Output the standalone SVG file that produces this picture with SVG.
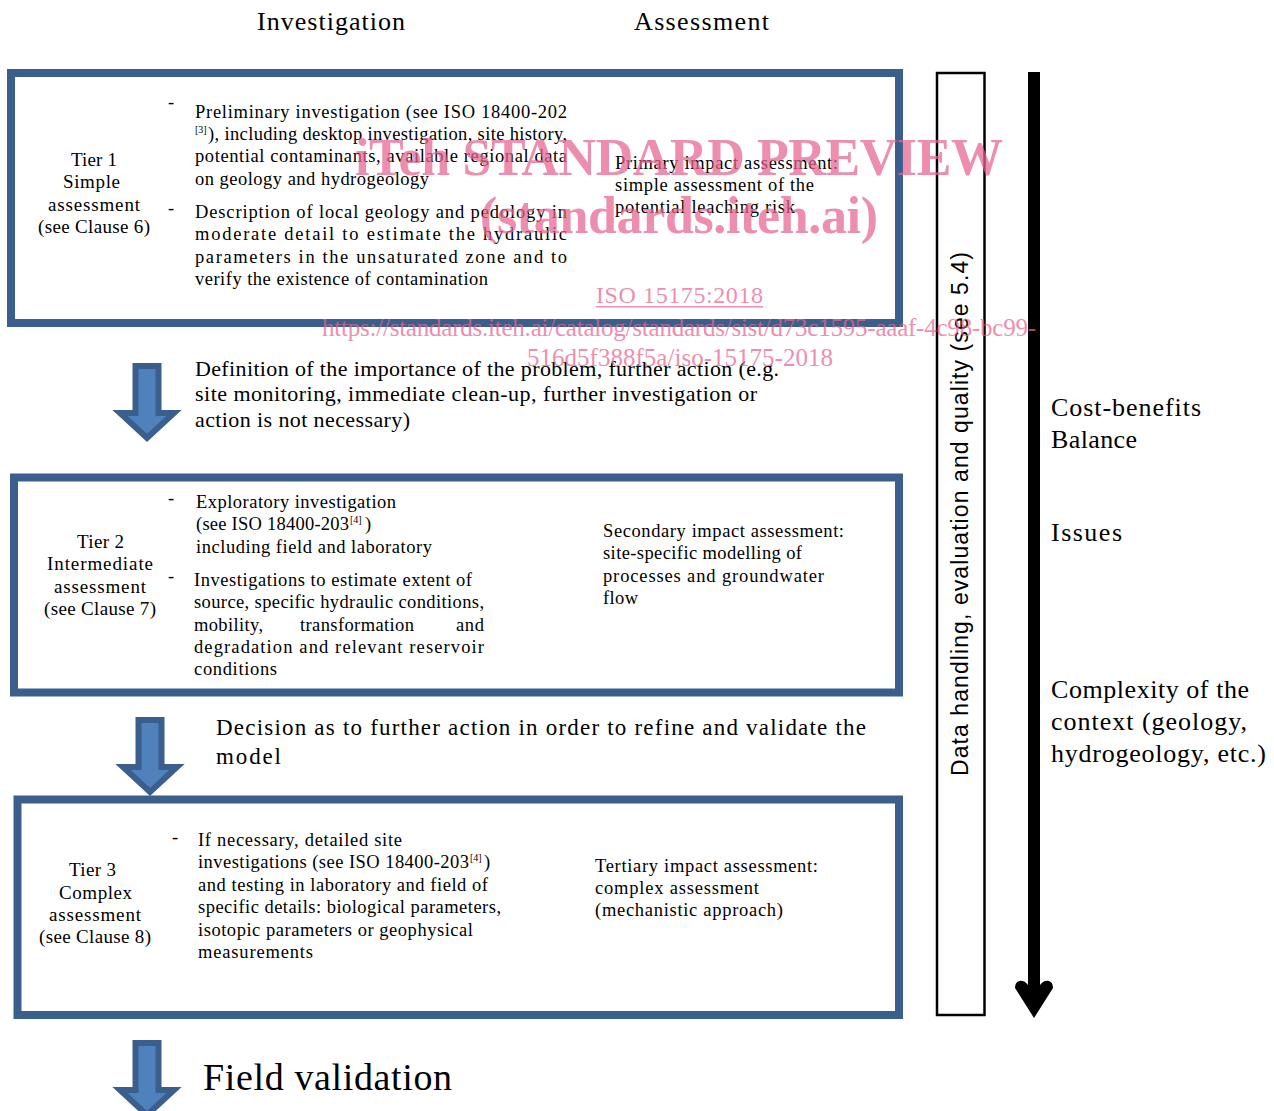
<svg xmlns="http://www.w3.org/2000/svg" width="1274" height="1111" viewBox="0 0 1274 1111">
<style>
.t{font-family:"Liberation Serif","Times New Roman",serif;font-size:18.5px;fill:#000}
.tl{font-family:"Liberation Serif","Times New Roman",serif;font-size:19px;fill:#000}
.big{font-family:"Liberation Serif","Times New Roman",serif;font-size:22px;fill:#000}
.h{font-family:"Liberation Serif","Times New Roman",serif;font-size:26px;fill:#000}
.sup{font-family:"Liberation Serif","Times New Roman",serif;font-size:10px;fill:#000}
.box{fill:#fff;stroke:#3B5F8C;stroke-width:8}
.barrow{fill:#4F81BD;stroke:#3B5F8C;stroke-width:6;stroke-linejoin:miter}
.wm{font-family:"Liberation Serif","Times New Roman",serif;fill:#E8648F;opacity:0.72}
</style>
<defs>
<path id="blueArrow" d="M-11.5,3 H11.5 V50 H27 L0,75 L-27,50 H-11.5 Z"/>
</defs>
<rect width="1274" height="1111" fill="#fff"/>

<g id="headers">
<text class="h" x="257" y="30" textLength="148">Investigation</text>
<text class="h" x="634" y="30" textLength="135">Assessment</text>
</g>

<g id="tier1">
<rect class="box" x="11" y="73" width="888" height="250"/>
<text class="tl" x="71" y="166" textLength="46">Tier 1</text>
<text class="tl" x="63" y="188" textLength="57">Simple</text>
<text class="tl" x="48" y="211" textLength="92">assessment</text>
<text class="tl" x="38" y="233" textLength="112">(see Clause 6)</text>
<text class="t" x="168" y="108">-</text>
<text class="t" x="195" y="118" textLength="372">Preliminary investigation (see ISO 18400-202</text>
<text class="sup" x="195" y="133">[3]</text>
<text class="t" x="208" y="140" textLength="359">), including desktop investigation, site history,</text>
<text class="t" x="195" y="162" textLength="372">potential contaminants, available regional data</text>
<text class="t" x="195" y="185" textLength="234">on geology and hydrogeology</text>
<text class="t" x="168" y="214">-</text>
<text class="t" x="195" y="218" textLength="372">Description of local geology and pedology in</text>
<text class="t" x="195" y="240" textLength="372">moderate detail to estimate the hydraulic</text>
<text class="t" x="195" y="263" textLength="372">parameters in the unsaturated zone and to</text>
<text class="t" x="195" y="285" textLength="293">verify the existence of contamination</text>
<text class="t" x="615" y="169" textLength="223">Primary impact assessment:</text>
<text class="t" x="615" y="191" textLength="199">simple assessment of the</text>
<text class="t" x="615" y="213" textLength="180">potential leaching risk</text>
</g>

<g id="decision1">
<text class="big" x="195" y="376" textLength="584">Definition of the importance of the problem, further action (e.g.</text>
<text class="big" x="195" y="401" textLength="562">site monitoring, immediate clean-up, further investigation or</text>
<text class="big" x="195" y="427" textLength="215">action is not necessary)</text>
</g>

<g id="tier2">
<rect class="box" x="14" y="477.5" width="885" height="215"/>
<text class="tl" x="77" y="548" textLength="47">Tier 2</text>
<text class="tl" x="47" y="570" textLength="106">Intermediate</text>
<text class="tl" x="54" y="593" textLength="92">assessment</text>
<text class="tl" x="44" y="615" textLength="112">(see Clause 7)</text>
<text class="t" x="168" y="504">-</text>
<text class="t" x="196" y="508" textLength="200">Exploratory investigation</text>
<text class="t" x="196" y="530" textLength="153">(see ISO 18400-203</text>
<text class="sup" x="350" y="523">[4]</text>
<text class="t" x="365" y="530">)</text>
<text class="t" x="196" y="553" textLength="236">including field and laboratory</text>
<text class="t" x="168" y="582">-</text>
<text class="t" x="194" y="586" textLength="278">Investigations to estimate extent of</text>
<text class="t" x="194" y="608" textLength="290">source, specific hydraulic conditions,</text>
<text class="t" x="194" y="631" textLength="69">mobility,</text>
<text class="t" x="300" y="631" textLength="114">transformation</text>
<text class="t" x="456" y="631" textLength="28">and</text>
<text class="t" x="194" y="653" textLength="290">degradation and relevant reservoir</text>
<text class="t" x="194" y="675" textLength="83">conditions</text>
<text class="t" x="603" y="537" textLength="241">Secondary impact assessment:</text>
<text class="t" x="603" y="559" textLength="199">site-specific modelling of</text>
<text class="t" x="603" y="582" textLength="221">processes and groundwater</text>
<text class="t" x="603" y="604" textLength="35">flow</text>
</g>

<g id="decision2">
<text class="big" x="216" y="735" textLength="650" style="font-size:23px">Decision as to further action in order to refine and validate the</text>
<text class="big" x="216" y="764" textLength="65" style="font-size:23px">model</text>
</g>

<g id="tier3">
<rect class="box" x="17.5" y="799.5" width="881.5" height="215.5"/>
<text class="tl" x="69" y="876" textLength="47">Tier 3</text>
<text class="tl" x="59" y="899" textLength="73">Complex</text>
<text class="tl" x="49" y="921" textLength="92">assessment</text>
<text class="tl" x="39" y="943" textLength="112">(see Clause 8)</text>
<text class="t" x="172" y="843">-</text>
<text class="t" x="198" y="846" textLength="204">If necessary, detailed site</text>
<text class="t" x="198" y="868" textLength="271">investigations (see ISO 18400-203</text>
<text class="sup" x="470" y="861">[4]</text>
<text class="t" x="484" y="868">)</text>
<text class="t" x="198" y="891" textLength="290">and testing in laboratory and field of</text>
<text class="t" x="198" y="913" textLength="303">specific details: biological parameters,</text>
<text class="t" x="198" y="936" textLength="275">isotopic parameters or geophysical</text>
<text class="t" x="198" y="958" textLength="115">measurements</text>
<text class="t" x="595" y="872" textLength="223">Tertiary impact assessment:</text>
<text class="t" x="595" y="894" textLength="164">complex assessment</text>
<text class="t" x="595" y="916" textLength="188">(mechanistic approach)</text>
</g>

<g id="fieldValidation">
<text class="h" x="203" y="1090" textLength="249" style="font-size:38px">Field validation</text>
</g>

<g id="dataHandling">
<rect x="937" y="73" width="47.5" height="942" fill="none" stroke="#000" stroke-width="2.5"/>
<text transform="translate(968,776) rotate(-90)" x="0" y="0" textLength="524" style="font-family:'Liberation Sans',Arial,sans-serif;font-size:23px;fill:#000">Data handling, evaluation and quality (see 5.4)</text>
</g>

<g id="sideLabels">
<text class="h" x="1051" y="416" textLength="150">Cost-benefits</text>
<text class="h" x="1051" y="448" textLength="86">Balance</text>
<text class="h" x="1051" y="541" textLength="71">Issues</text>
<text class="h" x="1051" y="698" textLength="198">Complexity of the</text>
<text class="h" x="1051" y="730" textLength="196">context (geology,</text>
<text class="h" x="1051" y="762" textLength="215">hydrogeology, etc.)</text>
</g>

<g id="connectors">
<use href="#blueArrow" class="barrow" transform="translate(147,363)"/>
<use href="#blueArrow" class="barrow" transform="translate(150,717)"/>
<use href="#blueArrow" class="barrow" transform="translate(147,1040)"/>
<path d="M1028,72 H1040 V985 C1044,979 1053,979 1053,988 L1034,1018 L1015,988 C1015,979 1024,979 1028,985 Z" fill="#000"/>
</g>

<g id="watermark">
<text class="wm" x="355" y="175" textLength="648" style="font-size:52px;font-weight:bold">iTeh STANDARD PREVIEW</text>
<text class="wm" x="480" y="233" textLength="398" style="font-size:52px;font-weight:bold">(standards.iteh.ai)</text>
<text class="wm" x="596" y="303" textLength="167" style="font-size:24px">ISO 15175:2018</text>
<rect x="596" y="306" width="167" height="1.5" fill="#E8648F" opacity="0.72"/>
<text class="wm" x="322" y="336" textLength="714" style="font-size:25px">https://standards.iteh.ai/catalog/standards/sist/d73c1595-aaaf-4c98-bc99-</text>
<text class="wm" x="527" y="366" textLength="306" style="font-size:25px">516d5f388f5a/iso-15175-2018</text>
</g>
</svg>
